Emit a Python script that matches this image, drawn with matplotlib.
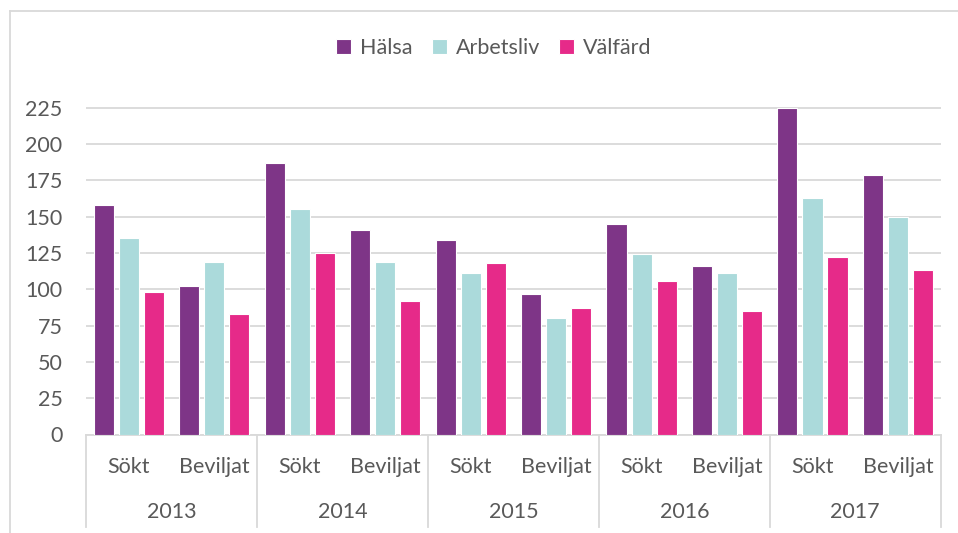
import numpy as np
import matplotlib.pyplot as plt
import matplotlib.transforms as mtrans
from matplotlib.lines import Line2D

# data
years = ['2013', '2014', '2015', '2016', '2017']
stages = ['Sökt', 'Beviljat']
series_names = ['Hälsa', 'Arbetsliv', 'Välfärd']
halsa = [158, 102, 187, 141, 134, 97, 145, 116, 225, 179]
arbetsliv = [135, 119, 155, 119, 111, 80, 124, 111, 163, 150]
valfard = [98, 83, 125, 92, 118, 87, 106, 85, 122, 113]

colors = ['#7E3587', '#ABDADB', '#E62A89']
text_col = '#595959'
grid_col = '#D9D9D9'

plt.rcParams['font.family'] = ['Lato', 'DejaVu Sans']

W, H = 958, 533
fig = plt.figure(figsize=(W / 100, H / 100), dpi=100)

# plot area in pixels
x0, x1 = 86, 940.7
y_zero, px_per_unit = 434.5, 1.452
ytop = 230
ax = fig.add_axes([x0 / W, (H - y_zero) / H, (x1 - x0) / W, ytop * px_per_unit / H])

n = len(years) * len(stages)
x = np.arange(n)
step, width = 0.293, 0.235
for i, (vals, c, name) in enumerate(zip([halsa, arbetsliv, valfard], colors, series_names)):
    ax.bar(x + (i - 1) * step, vals, width=width, color=c, edgecolor='white',
           linewidth=0.8, label=name, zorder=3)

ax.set_xlim(-0.5, n - 0.5)
ax.set_ylim(0, ytop)
ax.set_yticks(np.arange(0, 226, 25))
ax.yaxis.grid(True, color=grid_col, linewidth=1.3, zorder=0)
for s in ['top', 'right', 'left']:
    ax.spines[s].set_visible(False)
ax.spines['bottom'].set_color(grid_col)
ax.spines['bottom'].set_linewidth(1.3)
ax.tick_params(axis='y', length=0, pad=17, labelsize=15.5, labelcolor=text_col)
ax.set_xticks(x)
ax.set_xticklabels(stages * len(years))
ax.tick_params(axis='x', length=0, pad=16, labelsize=15.5, labelcolor=text_col)

# year labels and group dividers below the axis
trans = mtrans.blended_transform_factory(ax.transData, ax.transAxes)
ax_h_px = ytop * px_per_unit
for k, yr in enumerate(years):
    ax.text(2 * k + 0.5, -(512 - y_zero) / ax_h_px, yr, transform=trans,
            ha='center', va='center', fontsize=15.5, color=text_col)
for k in range(len(years) + 1):
    ax.plot([2 * k - 0.5, 2 * k - 0.5], [0, -(527 - y_zero) / ax_h_px],
            transform=trans, color=grid_col, linewidth=1.3, clip_on=False)

fig.legend(loc='center', bbox_to_anchor=(494 / W, 1 - 48 / H), ncol=3, frameon=False,
           fontsize=15.5, handlelength=0.7, handleheight=0.7, handletextpad=0.4,
           columnspacing=0.9, labelcolor=text_col)

# outer chart border (top and left visible in the crop)
fig.add_artist(Line2D([10 / W, 1], [1 - 10.5 / H, 1 - 10.5 / H], color=grid_col,
                      linewidth=1.3, transform=fig.transFigure))
fig.add_artist(Line2D([10 / W, 10 / W], [0, 1 - 10.5 / H], color=grid_col,
                      linewidth=1.3, transform=fig.transFigure))

fig.savefig('out.png', dpi=100)
